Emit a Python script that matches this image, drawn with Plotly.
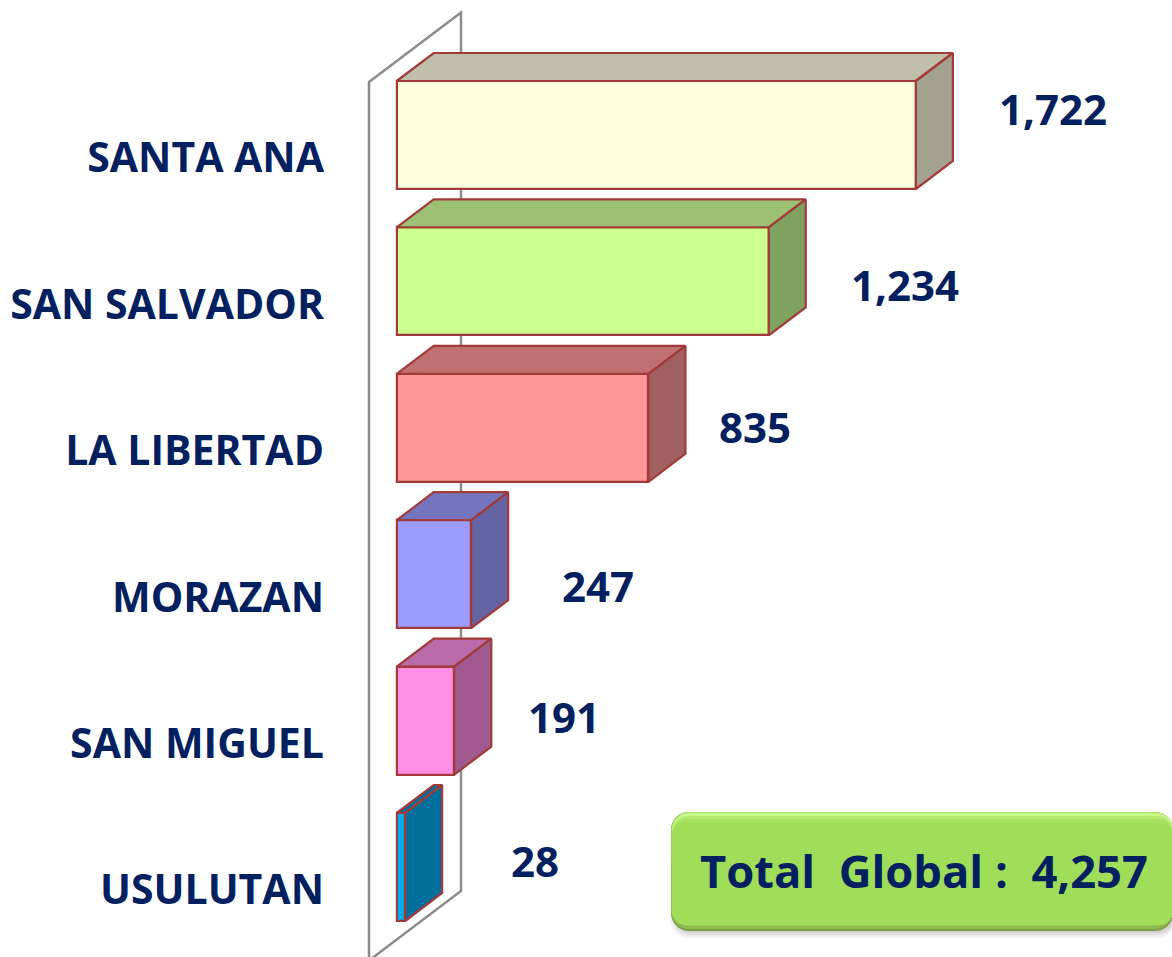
import plotly.graph_objects as go

categories = ["SANTA ANA", "SAN SALVADOR", "LA LIBERTAD", "MORAZAN", "SAN MIGUEL", "USULUTAN"]
values = [1722, 1234, 835, 247, 191, 28]
front_colors = ["#FFFFDF", "#CCFF90", "#FF9999", "#9C9CFF", "#FF8FE5", "#00B0F0"]
top_colors = ["#C0BFA9", "#9CC074", "#C07070", "#7575BF", "#B86BA8", "#006F9B"]
side_colors = ["#A3A28E", "#7FA25F", "#A06060", "#6464A5", "#A05A90", "#006F9B"]
label_dx = [137, 136, 107, 127, 110, 130]
label_dy = [-27, 3, -1, 11, -4, -7]
total_text = "Total  Global :  4,257"

W, H = 1172, 957
NAVY = "#002060"
EDGE = "#A33A3A"
FONT = "Open Sans"
X0, PX_X = 396.7, 0.3015
Y0, PX_Y = 135.0, 146.4
BAR_H = 108 / PX_Y
DX, DY = 37 / PX_X, 28 / PX_Y
x_of = lambda p: (p - X0) / PX_X
y_of = lambda p: (p - Y0) / PX_Y
idx = list(range(len(categories)))

fig = go.Figure()
fig.add_bar(y=idx, x=values, orientation="h", width=BAR_H,
            marker=dict(color=front_colors, line=dict(color=EDGE, width=2.2)))
for i, v in enumerate(values):
    t, b = i - BAR_H / 2, i + BAR_H / 2
    fig.add_scatter(x=[0, v, v + DX, DX, 0], y=[t, t, t - DY, t - DY, t], mode="lines", fill="toself",
                    fillcolor=top_colors[i], line=dict(color=EDGE, width=2.2))
    fig.add_scatter(x=[v, v + DX, v + DX, v, v], y=[t, t - DY, b - DY, b, t], mode="lines", fill="toself",
                    fillcolor=side_colors[i], line=dict(color=EDGE, width=2.2))


def wall():
    pts = [(369, 82), (461, 12.5), (461, 891), (369, 960.5)]
    d = " ".join(("M" if k == 0 else "L") + f"{x_of(a):.2f},{y_of(b):.4f}" for k, (a, b) in enumerate(pts)) + " Z"
    return dict(type="path", path=d, xref="x", yref="y", layer="below", fillcolor="white",
                line=dict(color="#8C8C8C", width=2.5))


def rrect(x0, y0, x1, y1, r, fill, opacity=1):
    fy = lambda v: 1 - v / H
    fx = lambda v: v / W
    k = 0.45 * r
    d = (f"M{fx(x0 + r)},{fy(y0)} L{fx(x1 - r)},{fy(y0)} C{fx(x1 - k)},{fy(y0)} {fx(x1)},{fy(y0 + k)} {fx(x1)},{fy(y0 + r)} "
         f"L{fx(x1)},{fy(y1 - r)} C{fx(x1)},{fy(y1 - k)} {fx(x1 - k)},{fy(y1)} {fx(x1 - r)},{fy(y1)} "
         f"L{fx(x0 + r)},{fy(y1)} C{fx(x0 + k)},{fy(y1)} {fx(x0)},{fy(y1 - k)} {fx(x0)},{fy(y1 - r)} "
         f"L{fx(x0)},{fy(y0 + r)} C{fx(x0)},{fy(y0 + k)} {fx(x0 + k)},{fy(y0)} {fx(x0 + r)},{fy(y0)} Z")
    return dict(type="path", path=d, xref="paper", yref="paper", fillcolor=fill,
                line=dict(width=0, color=fill), opacity=opacity, layer="above")


shapes = [wall()]
# soft shadow beneath the badge
for g, op in [(8, 0.04), (6, 0.05), (4, 0.07), (2, 0.10)]:
    shapes.append(rrect(674 - g / 2, 818, 1175, 931 + g, 18, "#404040", opacity=op))
# badge body built as stacked bevel layers
shapes += [
    rrect(671, 812, 1173, 931, 18, "#7E9E48"),
    rrect(671, 812, 1173, 929, 18, "#8DB84E"),
    rrect(671.5, 812, 1173, 926, 18, "#98CE55"),
    rrect(671.5, 812, 1173, 880, 18, "#A8DE68"),
    rrect(672, 813, 1173, 880, 17, "#C6F88A"),
    rrect(672, 816, 1173, 925, 16, "#B4EA70"),
    rrect(672, 819, 1173, 925, 15, "#A7E160"),
    rrect(672, 822, 1173, 925, 14, "#A0DE5A"),
]

annotations = [
    dict(x=v, y=i, xref="x", yref="y", text=f"{v:,}", showarrow=False, xanchor="center", yanchor="middle",
         xshift=label_dx[i], yshift=-label_dy[i], font=dict(family=FONT, size=42, color=NAVY, weight="bold"))
    for i, v in enumerate(values)
]
annotations.append(dict(x=924 / W, y=1 - 870 / H, xref="paper", yref="paper", text=total_text, showarrow=False,
                        xanchor="center", yanchor="middle",
                        font=dict(family=FONT, size=45.3, color=NAVY, weight="bold")))

fig.update_layout(
    width=W, height=H, margin=dict(l=0, r=0, t=0, b=0), autosize=False,
    paper_bgcolor="white", plot_bgcolor="white", showlegend=False, shapes=shapes, annotations=annotations,
    bargap=0, hovermode=False,
    xaxis=dict(range=[x_of(0), x_of(W)], domain=[0, 1], visible=False, fixedrange=True),
    yaxis=dict(range=[y_of(H), y_of(0)], domain=[0, 1], anchor="free", position=324 / W,
               tickmode="array", tickvals=[i + 23 / PX_Y for i in idx], ticktext=categories,
               ticks="", showgrid=False, zeroline=False, showline=False, fixedrange=True,
               tickfont=dict(family=FONT, size=41, color=NAVY, weight="bold")),
)
fig.write_html("out.html", config=dict(displayModeBar=False),
               post_script="document.body.style.margin='0';document.body.style.overflow='hidden';")
